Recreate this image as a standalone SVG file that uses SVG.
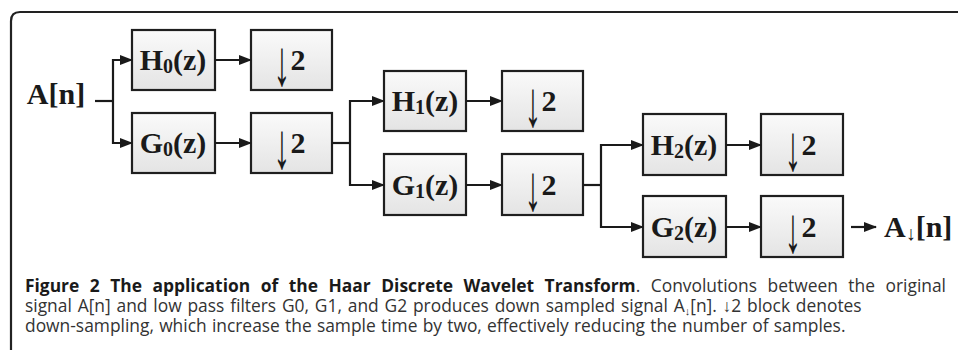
<svg xmlns="http://www.w3.org/2000/svg" width="958" height="350" viewBox="0 0 958 350">
<defs>
<linearGradient id="boxfill" x1="0" y1="0" x2="0" y2="1">
<stop offset="0" stop-color="#fafafa"/>
<stop offset="1" stop-color="#e4e4e4"/>
</linearGradient>
<marker id="arr" markerUnits="userSpaceOnUse" markerWidth="13" markerHeight="10" refX="12" refY="5" orient="auto">
<path d="M0,0 L13,5 L0,10 z" fill="#1a1a1a"/>
</marker>
</defs>
<style>
.box{fill:url(#boxfill);stroke:#1f1f1f;stroke-width:2.2}
.lbl{font-family:"Liberation Serif","Times New Roman",serif;font-weight:bold;font-size:30px;fill:#1a1a1a;text-anchor:middle}
.dn{font-family:"Liberation Serif","Times New Roman",serif;font-weight:normal;font-size:42px;fill:#1a1a1a;text-anchor:middle}
.arw{font-weight:normal}
.sub{font-size:20px}
.con{fill:none;stroke:#1a1a1a;stroke-width:2.2}
.cap{font-family:"Open Sans","Noto Sans",sans-serif;font-size:17.4px;fill:#333}
.capb{font-weight:bold;fill:#1a1a1a}
.frame{fill:none;stroke:#222;stroke-width:2.2}
</style>
<path class="frame" d="M11,350 V21 Q11,12 20,12 H958"/>
<g id="input"><text class="lbl" x="56" y="104">A[n]</text></g>
<g id="H0"><rect class="box" x="132" y="30" width="83" height="60"/><text class="lbl" x="173" y="70">H<tspan class="sub" dy="3">0</tspan><tspan dy="-3">(z)</tspan></text></g>
<g id="D0a"><rect class="box" x="251" y="30" width="81" height="60"/><text class="dn" transform="translate(282,85) scale(0.8,1.55)">↓</text><text class="lbl" x="298" y="70">2</text></g>
<g id="G0"><rect class="box" x="132" y="113" width="83" height="60"/><text class="lbl" x="173" y="153">G<tspan class="sub" dy="3">0</tspan><tspan dy="-3">(z)</tspan></text></g>
<g id="D0b"><rect class="box" x="251" y="113" width="81" height="60"/><text class="dn" transform="translate(282,168) scale(0.8,1.55)">↓</text><text class="lbl" x="298" y="153">2</text></g>
<g id="H1"><rect class="box" x="384" y="71" width="82" height="60"/><text class="lbl" x="425" y="111">H<tspan class="sub" dy="3">1</tspan><tspan dy="-3">(z)</tspan></text></g>
<g id="D1a"><rect class="box" x="502" y="71" width="81" height="60"/><text class="dn" transform="translate(533,126) scale(0.8,1.55)">↓</text><text class="lbl" x="549" y="111">2</text></g>
<g id="G1"><rect class="box" x="384" y="154" width="82" height="61"/><text class="lbl" x="425" y="195">G<tspan class="sub" dy="3">1</tspan><tspan dy="-3">(z)</tspan></text></g>
<g id="D1b"><rect class="box" x="502" y="154" width="81" height="61"/><text class="dn" transform="translate(533,210) scale(0.8,1.55)">↓</text><text class="lbl" x="549" y="195">2</text></g>
<g id="H2"><rect class="box" x="643" y="114" width="83" height="61"/><text class="lbl" x="684" y="155">H<tspan class="sub" dy="3">2</tspan><tspan dy="-3">(z)</tspan></text></g>
<g id="D2a"><rect class="box" x="761" y="114" width="82" height="61"/><text class="dn" transform="translate(793,170) scale(0.8,1.55)">↓</text><text class="lbl" x="809" y="155">2</text></g>
<g id="G2"><rect class="box" x="643" y="196" width="83" height="61"/><text class="lbl" x="684" y="237">G<tspan class="sub" dy="3">2</tspan><tspan dy="-3">(z)</tspan></text></g>
<g id="D2b"><rect class="box" x="761" y="196" width="82" height="61"/><text class="dn" transform="translate(793,252) scale(0.8,1.55)">↓</text><text class="lbl" x="809" y="237">2</text></g>
<g id="output"><text class="lbl" x="884" y="237" style="text-anchor:start">A<tspan class="sub arw" dy="3">↓</tspan><tspan dy="-3">[n]</tspan></text></g>
<g id="connectors">
<path class="con" d="M95,101 H113"/>
<path class="con" d="M113,101 V60 H132" marker-end="url(#arr)"/>
<path class="con" d="M113,101 V143 H132" marker-end="url(#arr)"/>
<path class="con" d="M215,60 H251" marker-end="url(#arr)"/>
<path class="con" d="M215,143 H251" marker-end="url(#arr)"/>
<path class="con" d="M332,143 H350"/>
<path class="con" d="M350,143 V101 H384" marker-end="url(#arr)"/>
<path class="con" d="M350,143 V185 H384" marker-end="url(#arr)"/>
<path class="con" d="M466,101 H502" marker-end="url(#arr)"/>
<path class="con" d="M466,185 H502" marker-end="url(#arr)"/>
<path class="con" d="M583,185 H601"/>
<path class="con" d="M601,185 V145 H643" marker-end="url(#arr)"/>
<path class="con" d="M601,185 V227 H643" marker-end="url(#arr)"/>
<path class="con" d="M726,145 H761" marker-end="url(#arr)"/>
<path class="con" d="M726,227 H761" marker-end="url(#arr)"/>
<path class="con" d="M851,227 H876" marker-end="url(#arr)"/>
</g>
<g id="caption">
<text class="cap" x="25" y="292" word-spacing="6"><tspan class="capb">Figure 2 The application of the Haar Discrete Wavelet Transform</tspan>. Convolutions between the original</text>
<text class="cap" x="25" y="312" word-spacing="1.3">signal A[n] and low pass filters G0, G1, and G2 produces down sampled signal A<tspan font-size="11" dy="3">↓</tspan><tspan dy="-3">[n]. ↓2 block denotes</tspan></text>
<text class="cap" x="25" y="332" word-spacing="0.7">down-sampling, which increase the sample time by two, effectively reducing the number of samples.</text>
</g>
</svg>
